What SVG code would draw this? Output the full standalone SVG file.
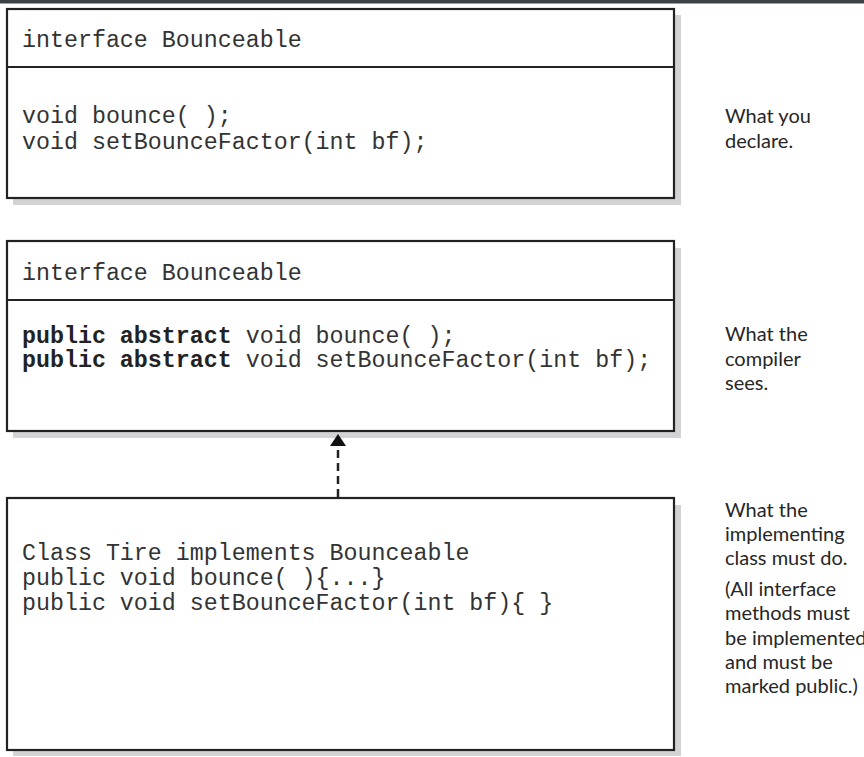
<svg xmlns="http://www.w3.org/2000/svg" width="864" height="757" viewBox="0 0 864 757">
<style>
.shadow{fill:#d3d3d5;stroke:none}
.box{fill:#ffffff;stroke:#222222;stroke-width:2.2}
.div{stroke:#222222;stroke-width:2.2}
.code{font-family:"Liberation Mono","Courier New",monospace;font-size:23.3px;fill:#333333}
.b{font-weight:bold;fill:#222222}
.note{font-family:Lato,"Open Sans",sans-serif;font-size:20px;fill:#262626}
.conn{stroke:#222222;stroke-width:2.5;stroke-dasharray:8 5;fill:none}
</style>
<defs>
<marker id="arrow" viewBox="0 0 12 16" refX="12" refY="8" markerWidth="12" markerHeight="16" markerUnits="userSpaceOnUse" orient="auto">
<path d="M0,0 L12,8 L0,16 Z" fill="#111111"/>
</marker>
</defs>
<rect x="0" y="0" width="864" height="3.5" fill="#3e4246"/>
<rect x="0" y="0" width="864" height="757" fill="#ffffff" opacity="0"/>

<g id="declared">
<rect class="shadow" x="13" y="15" width="668" height="190"/>
<rect class="box" x="7" y="9" width="667" height="189"/>
<line class="div" x1="7" y1="67" x2="674" y2="67"/>
<text class="code" x="22" y="47">interface Bounceable</text>
<text class="code" x="22" y="123">void bounce( );</text>
<text class="code" x="22" y="149">void setBounceFactor(int bf);</text>
</g>

<g id="compiled">
<rect class="shadow" x="13" y="248" width="668" height="190"/>
<rect class="box" x="7" y="241" width="667" height="190"/>
<line class="div" x1="7" y1="300" x2="674" y2="300"/>
<text class="code" x="22" y="280">interface Bounceable</text>
<text class="code" x="22" y="343"><tspan class="b">public abstract</tspan> void bounce( );</text>
<text class="code" x="22" y="367"><tspan class="b">public abstract</tspan> void setBounceFactor(int bf);</text>
</g>

<g id="tire">
<rect class="shadow" x="13" y="505" width="668" height="251"/>
<rect class="box" x="7" y="498" width="667" height="252"/>
<text class="code" x="22" y="560">Class Tire implements Bounceable</text>
<text class="code" x="22" y="585">public void bounce( ){...}</text>
<text class="code" x="22" y="610">public void setBounceFactor(int bf){ }</text>
</g>

<g id="connectors">
<line class="conn" x1="338" y1="497" x2="338" y2="434" marker-end="url(#arrow)"/>
</g>

<g id="notes">
<text class="note" x="725" y="123">What you</text>
<text class="note" x="725" y="148">declare.</text>
<text class="note" x="725" y="341">What the</text>
<text class="note" x="725" y="366">compiler</text>
<text class="note" x="725" y="390">sees.</text>
<text class="note" x="725" y="517">What the</text>
<text class="note" x="725" y="541">implementing</text>
<text class="note" x="725" y="565">class must do.</text>
<text class="note" x="725" y="596">(All interface</text>
<text class="note" x="725" y="620">methods must</text>
<text class="note" x="725" y="645">be implemented</text>
<text class="note" x="725" y="669">and must be</text>
<text class="note" x="725" y="693">marked public.)</text>
</g>
</svg>
